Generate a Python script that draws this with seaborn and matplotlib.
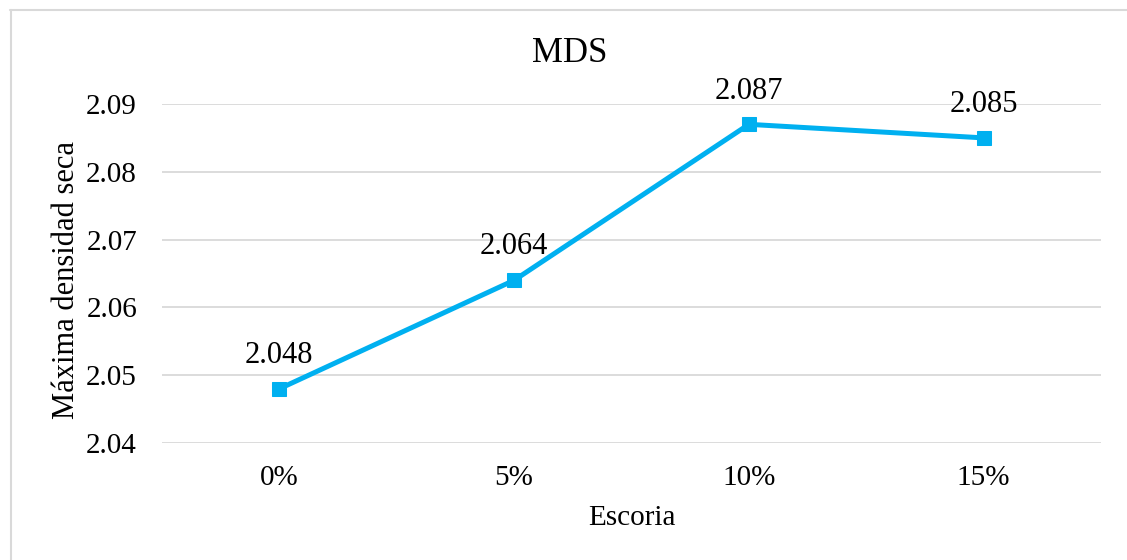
import matplotlib
matplotlib.use("Agg")
import matplotlib.pyplot as plt
from matplotlib.lines import Line2D
import seaborn as sns
import pandas as pd

categories = ["0%", "5%", "10%", "15%"]
values = [2.048, 2.064, 2.087, 2.085]
yticks = [2.04, 2.05, 2.06, 2.07, 2.08, 2.09]

sns.set_theme(style="white")
plt.rcParams['font.family'] = ['Liberation Serif', 'DejaVu Serif']

df = pd.DataFrame({"Escoria": categories, "MDS": values})

fig = plt.figure(figsize=(11.27, 5.6), dpi=100)
ax = fig.add_axes([162/1127, 1-443/560, (1101-162)/1127, (443-104)/560])

sns.lineplot(data=df, x="Escoria", y="MDS", ax=ax, color="#00B0F0",
             linewidth=3.6, marker="s", markersize=10.5,
             markeredgecolor="#00B0F0", markerfacecolor="#00B0F0", sort=False)

ax.set_xlim(-0.5, len(categories) - 0.5)
ax.set_ylim(yticks[0], yticks[-1])
ax.set_yticks(yticks)
ax.set_yticklabels([f"{t:.2f}" for t in yticks])
ax.grid(axis="y", color="#d9d9d9", linewidth=1.3)
ax.set_axisbelow(True)
for s in ax.spines.values():
    s.set_visible(False)
ax.tick_params(axis="both", length=0, labelsize=21, colors="black")
ax.tick_params(axis="y", pad=18)
ax.tick_params(axis="x", pad=16)

for i, v in enumerate(values):
    ax.annotate(f"{v:.3f}", (i, v), xytext=(0, 24), textcoords="offset points",
                ha="center", va="center", fontsize=22, color="black")

ax.set_xlabel("Escoria", fontsize=21, color="black", labelpad=10)
ax.set_ylabel("Máxima densidad seca", fontsize=22, color="black", labelpad=4)
ax.yaxis.label.set_y(0.48)
fig.text(570/1127, 1-53/560, "MDS", ha="center", va="center", fontsize=25, color="black")

fig.add_artist(Line2D([10/1127, 1], [1-10/560, 1-10/560], transform=fig.transFigure,
                      color="#d9d9d9", linewidth=1.5))
fig.add_artist(Line2D([10.5/1127, 10.5/1127], [0, 1-10/560], transform=fig.transFigure,
                      color="#d9d9d9", linewidth=1.5))

fig.savefig("out.png", dpi=100)
